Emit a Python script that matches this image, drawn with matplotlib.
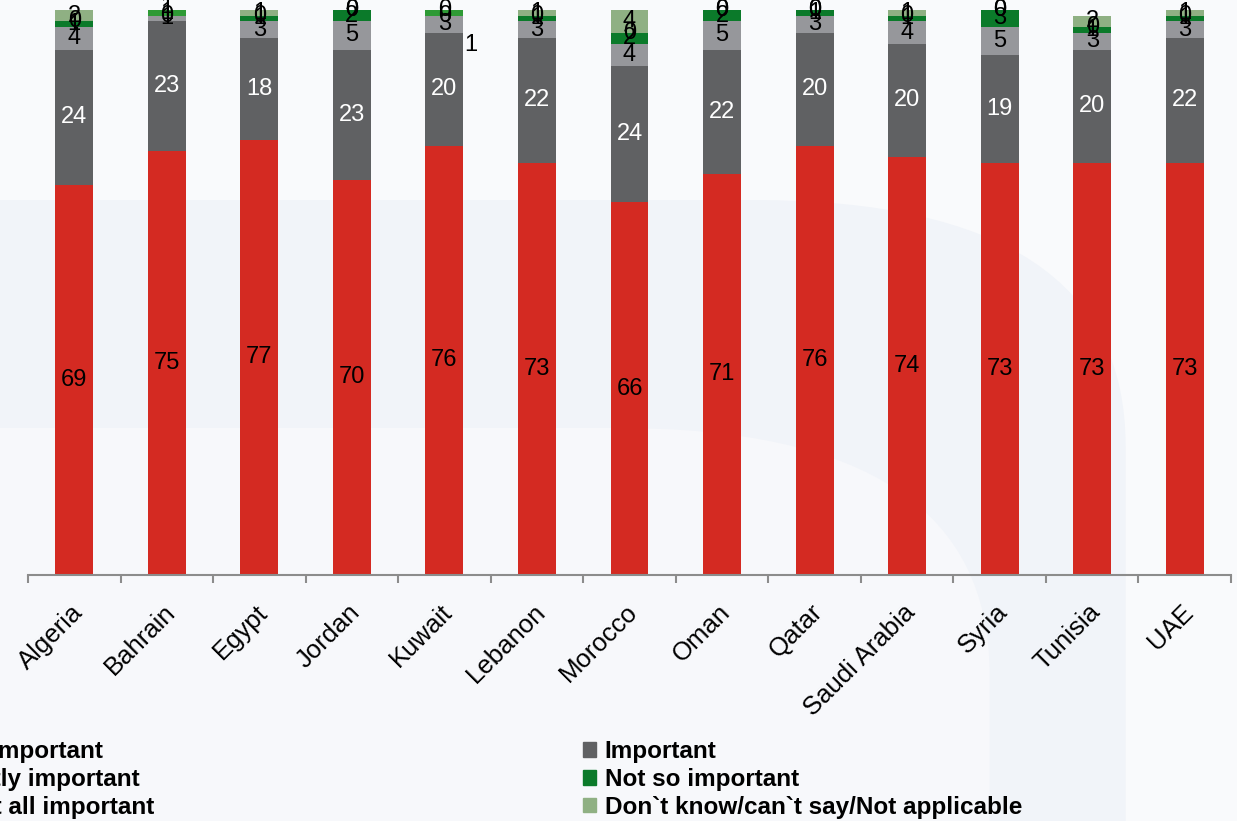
import numpy as np
import matplotlib.pyplot as plt
import matplotlib.transforms as mtransforms
from matplotlib.patches import Patch, FancyBboxPatch

plt.rcParams['font.family'] = ['Liberation Sans', 'DejaVu Sans']

countries = ['Algeria', 'Bahrain', 'Egypt', 'Jordan', 'Kuwait', 'Lebanon', 'Morocco',
             'Oman', 'Qatar', 'Saudi Arabia', 'Syria', 'Tunisia', 'UAE']
very = [69, 75, 77, 70, 76, 73, 66, 71, 76, 74, 73, 73, 73]
important = [24, 23, 18, 23, 20, 22, 24, 22, 20, 20, 19, 20, 22]
slightly = [4, 1, 3, 5, 3, 3, 4, 5, 3, 4, 5, 3, 3]
not_so = [1, 0, 1, 2, 0, 1, 2, 2, 1, 1, 3, 1, 1]
not_at_all = [0, 1, 0, 0, 1, 0, 0, 0, 0, 0, 0, 0, 0]
dont_know = [2, 1, 1, 0, 0, 1, 4, 0, 0, 1, 0, 2, 1]

names = ['Very important', 'Important', 'Slightly important', 'Not so important',
         'Not at all important', 'Don`t know/can`t say/Not applicable']
series = [very, important, slightly, not_so, not_at_all, dont_know]
colors = ['#d42a22', '#606163', '#96979b', '#0b7a2a', '#2e9a35', '#8fb083']
txt_colors = ['black', 'white', 'black', 'black', 'black', 'black']

W, H = 1237, 821
fig = plt.figure(figsize=(W / 100, H / 100), dpi=100, facecolor='#f9fafc')

# faint background swoosh (a band behind the chart)
fig.patches.append(FancyBboxPatch((-0.4, -0.5), 1.31, 0.5 + 621 / H,
                                  boxstyle='round,pad=0,rounding_size=0.3',
                                  transform=fig.transFigure, fc='#f1f4f9', ec='none', zorder=-2))
fig.patches.append(FancyBboxPatch((-0.4, -0.6), 1.2, 0.6 + 393 / H,
                                  boxstyle='round,pad=0,rounding_size=0.3',
                                  transform=fig.transFigure, fc='#f7f8fb', ec='none', zorder=-1))

ax = fig.add_axes([28 / W, 246 / H, 1203 / W, 565 / H])
ax.set_facecolor('none')
ax.set_zorder(2)

x = np.arange(len(countries))
bottom = np.zeros(len(countries))
for vals, name, c, tc in zip(series, names, colors, txt_colors):
    vals = np.array(vals, dtype=float)
    ax.bar(x, vals, 0.41, bottom=bottom, color=c, label=name, zorder=2)
    for i, v in enumerate(vals):
        if name == 'Not at all important' and countries[i] == 'Kuwait':
            # this label sits off to the right of the bar in the original
            ax.text(i + 0.28, 93.8, '%d' % v, ha='center', va='center', fontsize=17, color=tc, zorder=3)
            continue
        ax.text(i, bottom[i] + v / 2, '%d' % v, ha='center', va='center', fontsize=17, color=tc, zorder=3)
    bottom += vals

ax.set_xlim(-0.5, len(countries) - 0.5)
ax.set_ylim(0, 100)
for s in ['top', 'left', 'right']:
    ax.spines[s].set_visible(False)
ax.spines['bottom'].set_color('#8c8c8c')
ax.spines['bottom'].set_linewidth(1.5)
ax.set_yticks([])

ax.set_xticks(np.arange(-0.5, len(countries), 1))
ax.set_xticklabels([])
ax.tick_params(axis='x', which='major', length=6, width=1.5, color='#8c8c8c', direction='out')
ax.set_xticks(x, minor=True)
ax.set_xticklabels(countries, minor=True, rotation=45, ha='right', va='top',
                   rotation_mode='anchor', fontsize=18.5)
ax.tick_params(axis='x', which='minor', length=0, pad=18)
offset = mtransforms.ScaledTranslation(-4 / 100, 0, fig.dpi_scale_trans)
for lab in ax.get_xticklabels(minor=True):
    lab.set_transform(lab.get_transform() + offset)

handles = [Patch(color=c) for c in colors]
leg_kw = dict(frameon=False, prop={'weight': 'bold', 'size': 17.5},
              handlelength=0.55, handleheight=0.55, handletextpad=0.35,
              labelspacing=0.2, borderpad=0, borderaxespad=0, loc='upper left')
fig.legend([handles[0], handles[2], handles[4]], [names[0], names[2], names[4]],
           bbox_to_anchor=(-89 / W, (H - 740) / H), **leg_kw)
fig.legend([handles[1], handles[3], handles[5]], [names[1], names[3], names[5]],
           bbox_to_anchor=(583 / W, (H - 740) / H), **leg_kw)

fig.savefig('out.png', dpi=100, facecolor=fig.get_facecolor())
